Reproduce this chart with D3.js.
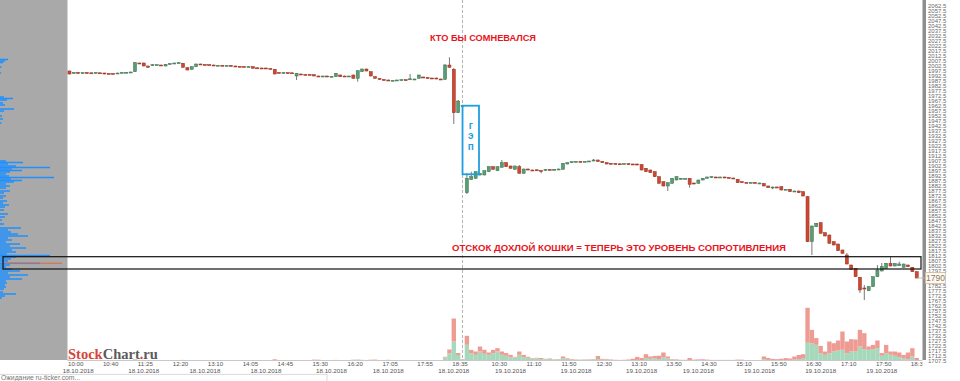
<!DOCTYPE html>
<html><head><meta charset="utf-8">
<script src="https://cdn.jsdelivr.net/npm/d3@7"></script>
<style>html,body{margin:0;padding:0;background:#fff;}svg{display:block}</style>
</head><body>
<svg id="c" width="960" height="381"></svg>
<script>
// ---------- DATA ----------
// 5-minute candles [open, high, low, close], 18.10.2018 (10:00-18:45)
const day1Ohlc = [
[1997,1997.5,1993.5,1994],[1995,1996,1994.5,1995.5],[1995.5,1996,1994.5,1995],[1995,1995.7,1994.7,1995.3],[1995.5,1995.7,1994.2,1994.5],
[1995.2,1995.5,1994.7,1995],[1995,1995.8,1994.7,1995.5],[1995.2,1995.5,1994.5,1994.8],[1995,1995.2,1993.7,1994],[1994.5,1994.7,1993.7,1994],
[1994.5,1994.8,1993.7,1994],[1994.5,1995.2,1994.2,1995],[1995,1995.8,1994.8,1995.5],[1995.5,1996,1995.2,1995.7],[1995.7,1996.3,1995.5,1996],
[1996.3,2006,1996,2005.3],[2005,2005.3,2004.3,2004.7],[2005,2005.3,2001.7,2002],[2002,2002.3,2000.3,2000.7],[2002.5,2003.7,2002,2003.3],
[2003.3,2003.7,2003,2003.3],[2003,2003.3,2002.3,2002.7],[2002,2004,2001.7,2003.7],[2003.5,2004.8,2003.2,2004.5],[2004.5,2005.3,2004.2,2005],
[2005,2005.7,2004.7,2005.3],[2004.7,2005,2000.3,2000.7],[2000.3,2000.7,1997.7,1998],[1998.7,2001.7,1998.3,2001.3],[2001.3,2004.3,2001,2004],
[2004,2004.3,2003,2003.3],[2003.5,2003.8,2002.7,2003],[2003.3,2003.6,2002.7,2003],[2003,2003.3,2002.4,2002.7],[2002.7,2003,2002.4,2002.7],
[2002.7,2003,2002,2002.3],[2002.3,2002.8,2002,2002.5],[2002.5,2002.8,2001.7,2002],[2002,2002.3,2001.4,2001.7],[2001.7,2002,2001.2,2001.5],
[2001.5,2001.8,2001,2001.3],[2001.3,2001.6,2001,2001.3],[2001.3,2001.6,1999.4,1999.7],[2000.2,2000.5,1999.5,1999.8],[2000,2000.3,1999.4,1999.7],
[2000,2000.3,1999.2,1999.5],[1999.5,1999.8,1998.7,1999],[1998.7,1999,1993.7,1994],[1995.5,1995.8,1994.7,1995],[1995,1995.7,1994.7,1995.4],
[1995.3,1995.6,1994.5,1994.8],[1995.2,1995.5,1994.7,1995],[1992,1995,1988,1994.7],[1994,1994.3,1993.2,1993.5],[1993.5,1993.8,1992.9,1993.2],
[1993.5,1993.8,1992.7,1993],[1993.3,1993.6,1991.7,1992],[1992,1992.3,1991.4,1991.7],[1991.8,1992.2,1991.5,1992],[1992,1992.3,1991.2,1991.5],
[1991.7,1992,1991.4,1991.7],[1991.3,1995,1991,1994.7],[1993,1993.3,1991,1991.3],[1992,1992.3,1991.5,1991.8],[1991.8,1992.2,1991.5,1992],
[1993,1993.3,1989.4,1989.7],[1989.7,1997.6,1986.3,1997.3],[1996.3,1999.3,1996,1999],[1999,1999.3,1996.7,1997],[1996.3,1996.6,1991.7,1992],
[1991.3,1991.6,1989.4,1989.7],[1989.5,1989.8,1988.2,1988.5],[1988.5,1988.8,1987.7,1988],[1988,1988.3,1987,1987.3],[1987.5,1988,1987.2,1987.7],
[1987.7,1988.3,1987.4,1988],[1988.2,1988.6,1987.9,1988.3],[1988.3,1988.6,1987.9,1988.2],[1988.5,1994,1988.2,1989.2],[1989,1989.3,1988.7,1989],
[1989.7,1993.3,1989.4,1993],[1991,1991.3,1990.2,1990.5],[1990.5,1990.8,1989.2,1989.5],[1990,1990.3,1989.4,1989.7],[1990,1990.3,1988.7,1989],
[1989,1989.3,1988.4,1988.7],[1988.7,2004,1988,2003],[2003,2010.7,2000.4,2000.7],[1998.7,2000,1944,1955.3],[1955.3,1968,1955,1967],
[1962.3,1962.8,1961.8,1962.3]
];
// 5-minute candles [open, high, low, close], 19.10.2018 (10:00-18:35)
const day2Ohlc = [
[1875.3,1895,1874,1889.7],[1888.7,1896.3,1888,1891.3],[1889.7,1896.6,1889.4,1896.3],[1893,1894.8,1892.7,1894.5],[1893,1897.6,1892.7,1897.3],
[1896.3,1901.6,1896,1901.3],[1901.3,1901.6,1898.4,1898.7],[1897.3,1901.6,1897,1901.3],[1900.7,1908,1900.4,1905.3],[1905.3,1905.6,1901,1901.3],
[1902,1902.3,1899.4,1899.7],[1898.7,1902.3,1898.4,1902],[1901.3,1903,1894.4,1894.7],[1894.7,1899.3,1894.4,1899],[1899,1899.3,1897.7,1898],
[1898,1898.3,1897.4,1897.7],[1898.2,1898.5,1897.2,1897.5],[1897.5,1897.8,1894.7,1897.2],[1897.5,1898.8,1897.2,1898.5],[1898.5,1898.8,1897.9,1898.2],
[1898.2,1899,1897.9,1898.7],[1898.7,1899.3,1898.4,1899],[1898.7,1905,1898.4,1904.7],[1904,1905.6,1903.7,1905.3],[1905.3,1906.6,1905,1906.3],
[1906.3,1906.8,1906,1906.5],[1906.5,1906.8,1906,1906.3],[1906.3,1907,1906,1906.7],[1906.7,1907.3,1906.4,1907],[1907,1909,1906.7,1908],
[1908,1908.3,1906.2,1906.5],[1906.5,1906.8,1905,1905.3],[1905.3,1905.6,1903.7,1904],[1904.7,1905,1903.7,1904],[1904.5,1904.8,1903.9,1904.2],
[1904.2,1904.5,1903.7,1904],[1904,1904.6,1903.7,1904.3],[1904.3,1904.6,1903.7,1904],[1904,1904.3,1903.4,1903.7],[1904,1904.3,1902.7,1903],
[1903.5,1903.8,1897.7,1898],[1899.7,1900,1896,1896.3],[1898,1898.3,1895,1895.3],[1896.3,1896.6,1891,1891.3],[1891.3,1891.6,1884.4,1884.7],
[1886.3,1886.6,1881.7,1882],[1882,1885.6,1877,1885.3],[1884.7,1890,1884.4,1889.7],[1888,1891.6,1887.7,1891.3],[1888.7,1890,1888.4,1889.7],
[1889.5,1889.8,1889.2,1889.5],[1889.7,1890,1880.3,1883.7],[1885,1885.3,1883.7,1884],[1884.7,1888.3,1884.4,1888],[1888,1890,1887.7,1889.7],
[1889.7,1891.3,1889.4,1891],[1890.5,1891.6,1890.2,1891.3],[1891,1891.3,1890.4,1890.7],[1890.7,1891.3,1890.4,1891],[1891,1891.3,1890.4,1890.7],
[1890.5,1890.8,1889.7,1890],[1890,1890.3,1889.2,1889.5],[1888.7,1889,1885,1885.3],[1886.3,1886.6,1885,1885.3],[1885.5,1885.8,1885,1885.3],
[1885.3,1885.8,1885,1885.5],[1885.5,1885.8,1884.7,1885],[1885,1885.3,1884.7,1885],[1884.5,1884.8,1881.7,1882],[1882,1882.3,1880.2,1880.5],
[1880.5,1881.3,1878.7,1881],[1881,1881.3,1880.2,1880.5],[1881.3,1881.6,1877.7,1878],[1878.7,1879,1878.4,1878.7],[1878.7,1879,1876,1876.3],
[1877,1877.3,1876.7,1877],[1877,1877.3,1875,1875.3],[1876.3,1876.6,1871.7,1872],[1871.3,1872,1826,1826.3],[1826.3,1842.3,1813,1842],
[1841.3,1845,1841,1844.7],[1845.3,1845.6,1834.4,1834.7],[1835.3,1835.6,1831.7,1832],[1833,1833.3,1824.4,1824.7],[1826.3,1826.6,1822.7,1823],
[1824,1824.3,1817,1817.3],[1818,1818.3,1814.4,1814.7],[1813,1815,1803.7,1804],[1803,1803.3,1798.4,1798.7],[1799.7,1800,1791,1791.3],
[1790.7,1791,1775,1778],[1780,1783,1768,1779],[1777.3,1781.6,1777,1781.3],[1781.3,1791.6,1781,1791.3],[1791.3,1803,1791,1798],
[1797,1805,1796.7,1801.5],[1799.7,1805,1799.4,1804.7],[1804.7,1811.3,1801.7,1802],[1802,1804.8,1801.7,1804.5],[1802.5,1806.3,1802.2,1804],
[1800.7,1804.3,1800.4,1804],[1803,1803.3,1801,1801.3],[1800.7,1801,1796,1796.3],[1796.3,1796.6,1789.7,1790]
];
// volume per candle (thousand lots): buyer-initiated / seller-initiated
const day1VolBuy = [0.4,0.2,0.1,0.1,0.2,0.1,0.2,0.1,0.2,0.2, 0.2,0.1,0.2,0.1,0.1,1.2,0.3,0.2,0.1,0.3, 0.1,0.2,0.4,0.3,0.2,0.2,0.2,0.1,0.3,0.4,
 0.1,0.1,0.1,0.1,0.1,0.1,0.1,0.1,0.1,0.1, 0.1,0.1,0.1,0.1,0.1,0.1,0.1,0.2,0.1,0.2, 0.1,0.1,0.4,0.1,0.1,0.1,0.1,0.1,0.1,0.1,
 0.1,0.5,0.1,0.1,0.1,0.2,0.8,0.6,0.2,0.1, 0.1,0.1,0.1,0.1,0.1,0.1,0.1,0.1,0.3,0.1, 0.4,0.1,0.1,0.1,0.1,0.2,3,7,19,5.5, 1];
const day1VolSell = [0.5,0.1,0.2,0.1,0.3,0.1,0.1,0.2,0.3,0.2, 0.2,0.1,0.1,0.1,0.1,0.2,0.1,0.3,0.3,0.1, 0.1,0.1,0.1,0.1,0.1,0.1,0.4,0.4,0.1,0.1,
 0.1,0.1,0.1,0.1,0.1,0.1,0.1,0.1,0.1,0.1, 0.1,0.1,0.2,0.1,0.1,0.1,0.1,1.0,0.2,0.1, 0.1,0.1,0.1,0.1,0.1,0.1,0.8,0.7,0.1,0.1,
 0.1,0.1,0.3,0.1,0.1,0.6,0.2,0.1,0.3,0.7, 0.8,0.2,0.2,0.6,0.1,0.1,0.1,0.1,0.1,0.1, 0.1,0.1,0.2,0.1,0.3,0.1,0.7,4,23,2, 0.5];
const day2VolBuy = [15.7,7.3,5.7,9,6.7,5.7,7.3,9,5.7,4.7, 3.3,3,5.7,3.3,2.7,2,2,1.5,1.2,1.5, 1,1.2,2.3,1.5,1,0.8,0.6,0.8,0.8,1.2,
 1.5,0.8,1,0.5,0.4,0.3,0.4,0.5,0.5,0.6, 0.5,2.3,1.7,2.3,1.5,3.3,2,0.8,0.7,0.4, 0.3,0.5,0.3,0.5,0.4,0.5,0.3,0.3,0.3,0.3,
 0.3,0.3,0.3,0.3,0.2,0.2,0.2,0.2,1.3,0.6, 0.4,0.3,0.5,0.4,0.6,0.8,1.5,1.8,17.7,17.3, 15.7,7.3,5.7,7.3,9,10,10.7,7.3,9,9,
 14,11.3,10.7,11.3,12.3,4.7,7.3,5.7,4.7,3.3, 2.3,1.3,4,0.5];
const day2VolSell = [9,3.3,3.3,5,4,2.3,3.3,3.3,3.3,2.7, 2.3,0.7,3.3,2.3,1,0.5,0.7,1,0.5,0.5, 0.3,0.3,1.7,0.7,0.5,0.3,0.3,0.3,0.4,0.3,
 3,0.8,0.6,0.5,0.3,0.3,0.3,0.5,1.2,3, 2,4,2.3,2.3,3.3,4.7,2,0.6,0.5,0.3, 0.4,2,0.6,0.6,0.8,0.4,0.3,0.3,0.3,0.3,
 0.3,0.3,0.6,0.5,0.3,0.3,0.3,0.3,2.7,2, 1.2,1,1.2,2,1.4,3.2,4,4.5,35,13.3, 6.7,7.3,3.3,11.7,8.3,10,18.3,11.7,12.3,12,
 16.7,16,3.3,4.3,7.7,2.7,8.3,3.3,4.3,4.7, 3.3,6.7,8.3,2];
// volume profile by price (left panel)
const profilePrice = [2008.5,2007,2005.5,2001,1995,1971,1969.5,1968,1965,1963,1959,1957,1952,1949,1945,1907,1905.5,1904,1902,1900.5,
 1899,1897.5,1896,1894,1892,1890.5,1889,1887.5,1886,1884,1882,1880,1877,1875,1872,1870,1867,1865,1863,1861,
 1858,1854,1851,1848,1844,1840,1838,1836,1834,1832,1830,1828,1826,1824,1822,1820,1818,1816,1814,1812.5,
 1811,1809,1807,1804.7,1803,1801,1799,1797,1795,1793,1791,1789,1787,1785,1783,1781,1779,1776,1774,1772,1770];
const profileVolume = [8,5,3,1.5,1,4,13,7,3,5,14,4,2,3,1.5,6,23,8,16,50,
 12,22,10,6,9,54,11,22,14,6,10,6,10,4,6,3,7,3,9,5,
 4,8,5,2,4,21,8,11,18,28,8,12,6,20,10,26,12,16,7,50,
 16,11,8,40,10,6,12,20,8,28,10,22,6,7,5,6,4,3,16,5,2];
const pocPrice = 1804.7, pocVolume = 62;
// x-axis tick labels (candle index -> text)
const timeTickIdx = [0,8,16,24,32,40,48,56,64,72,80,88,97,105,113,121,129,137,145,153,161,169,177,185,193];
const timeTickLabels = ["10:00","10:40","11:25","12:20","13:10","14:05","14:45","15:30","16:20","17:05","17:55","18:35",
 "10:30","11:10","11:50","12:30","13:10","13:50","14:30","15:10","15:50","16:30","17:10","17:50","18:30"];
const dateTickIdx = [2,17,31,45,60,73,88,101,116,131,144,158,172,186];
const dateTickLabels = ["18.10.2018","18.10.2018","18.10.2018","18.10.2018","18.10.2018","18.10.2018","18.10.2018",
 "19.10.2018","19.10.2018","19.10.2018","19.10.2018","19.10.2018","19.10.2018","19.10.2018"];
const priceTicks = d3.range(1707.5, 2065, 5);
// annotations
const sessionBreakIdx = 90;
const gapIdx = [90, 94], gapPrices = [1893.7, 1962.3];
const resistancePrices = [1799, 1811.3];
const lastPrice = 1790;
const noteTop = "КТО БЫ СОМНЕВАЛСЯ";
const noteZone = "ОТСКОК ДОХЛОЙ КОШКИ = ТЕПЕРЬ ЭТО УРОВЕНЬ СОПРОТИВЛЕНИЯ";
const gapLetters = ["г","э","п"];

// ---------- CHART ----------
const ohlc = day1Ohlc.concat(day2Ohlc);
const volBuy = day1VolBuy.concat(day2VolBuy);
const volSell = day1VolSell.concat(day2VolSell);
const N = ohlc.length;
const SANS = "'Liberation Sans', Arial, sans-serif";

const svg = d3.select("#c");
svg.append("rect").attr("width",960).attr("height",381).attr("fill","#fff");

const x = d3.scaleBand().domain(d3.range(N)).range([67.3, 918.9]).paddingInner(0.3).paddingOuter(0.15);
const cx = i => x(i) + x.bandwidth()/2;
const step = x.step();
const y = d3.scaleLinear().domain([1708, 2068]).range([360, 0]);
const yv = d3.scaleLinear().domain([0, 60]).range([360.5, 300.5]);
const xp = d3.scaleLinear().domain([0, 62]).range([0, 62]);

// left panel + volume profile
svg.append("rect").attr("x",0).attr("y",0).attr("width",67.5).attr("height",360).attr("fill","#a9a9a9");
svg.append("g").selectAll("rect").data(profilePrice).join("rect")
  .attr("x",0).attr("y",p => y(p) - 0.75).attr("height",1.5)
  .attr("width",(p,i) => xp(profileVolume[i])).attr("fill","#1e90ff");
svg.append("line").attr("x1",5).attr("x2",xp(pocVolume)).attr("y1",y(pocPrice)).attr("y2",y(pocPrice))
  .attr("stroke","#e2683f").attr("stroke-width",1.1);

// volume bars
const gv = svg.append("g");
gv.selectAll("rect.b").data(d3.range(N)).join("rect").attr("class","b")
  .attr("x",i => cx(i) - step/2).attr("width",step)
  .attr("y",i => yv(volBuy[i])).attr("height",i => yv(0) - yv(volBuy[i])).attr("fill","#a6d9bb");
gv.selectAll("rect.s").data(d3.range(N)).join("rect").attr("class","s")
  .attr("x",i => cx(i) - step/2).attr("width",step)
  .attr("y",i => yv(volBuy[i] + volSell[i])).attr("height",i => yv(volBuy[i]) - yv(volBuy[i] + volSell[i])).attr("fill","#ee9b93");

// session separator (dashed)
svg.append("line").attr("x1",cx(sessionBreakIdx)).attr("x2",cx(sessionBreakIdx)).attr("y1",0).attr("y2",360)
  .attr("stroke","#a0a0a0").attr("stroke-width",0.8).attr("stroke-dasharray","3,2");

// candles
const gc = svg.append("g");
gc.selectAll("line").data(d3.range(N)).join("line")
  .attr("x1",i => cx(i)).attr("x2",i => cx(i))
  .attr("y1",i => y(ohlc[i][1])).attr("y2",i => y(ohlc[i][2]))
  .attr("stroke","#555").attr("stroke-width",0.8);
gc.selectAll("rect").data(d3.range(N)).join("rect")
  .attr("x",i => x(i)).attr("width",x.bandwidth())
  .attr("y",i => y(Math.max(ohlc[i][0], ohlc[i][3])))
  .attr("height",i => Math.max(1, Math.abs(y(ohlc[i][0]) - y(ohlc[i][3]))))
  .attr("fill",i => ohlc[i][3] >= ohlc[i][0] ? "#5a9d72" : "#cf4733")
  .attr("stroke",i => ohlc[i][3] >= ohlc[i][0] ? "#3b7352" : "#94301f")
  .attr("stroke-width",0.5);

// resistance zone box
svg.append("rect").attr("x",3).attr("width",921 - 3)
  .attr("y",y(resistancePrices[1])).attr("height",y(resistancePrices[0]) - y(resistancePrices[1]))
  .attr("fill","none").attr("stroke","#111").attr("stroke-width",1.2);

// gap box
const gx0 = cx(gapIdx[0]), gx1 = cx(gapIdx[1]) - 1;
svg.append("rect").attr("x",gx0).attr("width",gx1 - gx0)
  .attr("y",y(gapPrices[1])).attr("height",y(gapPrices[0]) - y(gapPrices[1]))
  .attr("fill","none").attr("stroke","#1f9fe0").attr("stroke-width",1.8);
svg.append("g").selectAll("text").data(gapLetters).join("text")
  .attr("x",(gx0 + gx1)/2).attr("y",(d,i) => 128.5 + i*10.5)
  .attr("text-anchor","middle").attr("font-family",SANS).attr("font-weight","bold")
  .attr("font-size",10).attr("fill","#1f9fe0").text(d => d);

// red notes
svg.append("text").attr("x",430).attr("y",40.7).attr("textLength",106).attr("lengthAdjust","spacingAndGlyphs")
  .attr("font-family",SANS).attr("font-weight","bold").attr("font-size",9.5).attr("fill","#e8141b").text(noteTop);
svg.append("text").attr("x",452).attr("y",251).attr("textLength",334).attr("lengthAdjust","spacingAndGlyphs")
  .attr("font-family",SANS).attr("font-weight","bold").attr("font-size",9.5).attr("fill","#e8141b").text(noteZone);

// right price axis
const ly = y(lastPrice);
svg.append("rect").attr("x",922.5).attr("y",0).attr("width",3.5).attr("height",360).attr("fill","#8e8e8e");
const ya = svg.append("g").attr("transform","translate(926,0)")
  .call(d3.axisRight(y).tickValues(priceTicks.filter(p => Math.abs(y(p) - ly) > 6.5))
        .tickSize(0).tickFormat(d3.format(".1f")))
  .attr("font-size",6).attr("font-family",SANS);
ya.select(".domain").remove();
ya.selectAll("text").attr("x",2).attr("fill","#6a6a6a");

// last price label
svg.append("line").attr("x1",cx(N-1)).attr("x2",925.5).attr("y1",ly).attr("y2",ly).attr("stroke","#b5b5b5").attr("stroke-width",0.8);
svg.append("rect").attr("x",925.5).attr("y",ly - 5.5).attr("width",20).attr("height",11)
  .attr("fill","#fdf9f2").attr("stroke","#cdb9a0").attr("stroke-width",0.8);
svg.append("text").attr("x",935.5).attr("y",ly + 3).attr("text-anchor","middle")
  .attr("font-family",SANS).attr("font-size",8.5).attr("fill","#8a7a66").text(lastPrice);

// bottom time axis
svg.append("line").attr("x1",67.5).attr("x2",922.5).attr("y1",360.5).attr("y2",360.5).attr("stroke","#c8c8c8");
svg.append("clipPath").attr("id","axclip").append("rect").attr("x",0).attr("y",355).attr("width",922.5).attr("height",30);
const xaWrap = svg.append("g").attr("clip-path","url(#axclip)");
const xa = xaWrap.append("g").attr("transform","translate(0,360)")
  .call(d3.axisBottom(x).tickValues(timeTickIdx).tickSize(0).tickFormat((d,k) => timeTickLabels[k]))
  .attr("font-size",6.2).attr("font-family",SANS);
xa.select(".domain").remove();
xa.selectAll("text").attr("dy",null).attr("y",6.3).attr("x",-1.5).attr("text-anchor","start").attr("fill","#555");
const xd = svg.append("g").attr("transform","translate(0,360)")
  .call(d3.axisBottom(x).tickValues(dateTickIdx).tickSize(0).tickFormat((d,k) => dateTickLabels[k]))
  .attr("font-size",6.2).attr("font-family",SANS);
xd.select(".domain").remove();
xd.selectAll("text").attr("dy",null).attr("y",12.8).attr("fill","#555");

// logo
const logo = svg.append("text").attr("x",68).attr("y",359)
  .attr("font-family","'Liberation Serif', 'Times New Roman', serif").attr("font-weight","bold").attr("font-size",14.5);
logo.append("tspan").attr("fill","#d5463a").text("Stock");
logo.append("tspan").attr("fill","#5b5b5b").text("Chart");
logo.append("tspan").attr("fill","#d5463a").text(".");
logo.append("tspan").attr("fill","#5b5b5b").text("ru");

// status bar
svg.append("rect").attr("x",-1).attr("y",374.3).attr("width",328).attr("height",10)
  .attr("fill","#fff").attr("stroke","#d0d0d0").attr("stroke-width",0.8);
svg.append("text").attr("x",1).attr("y",379.5).attr("font-family",SANS).attr("font-size",6.8)
  .attr("fill","#777").text("Ожидание ru-ticker.com...");
</script>
</body></html>
